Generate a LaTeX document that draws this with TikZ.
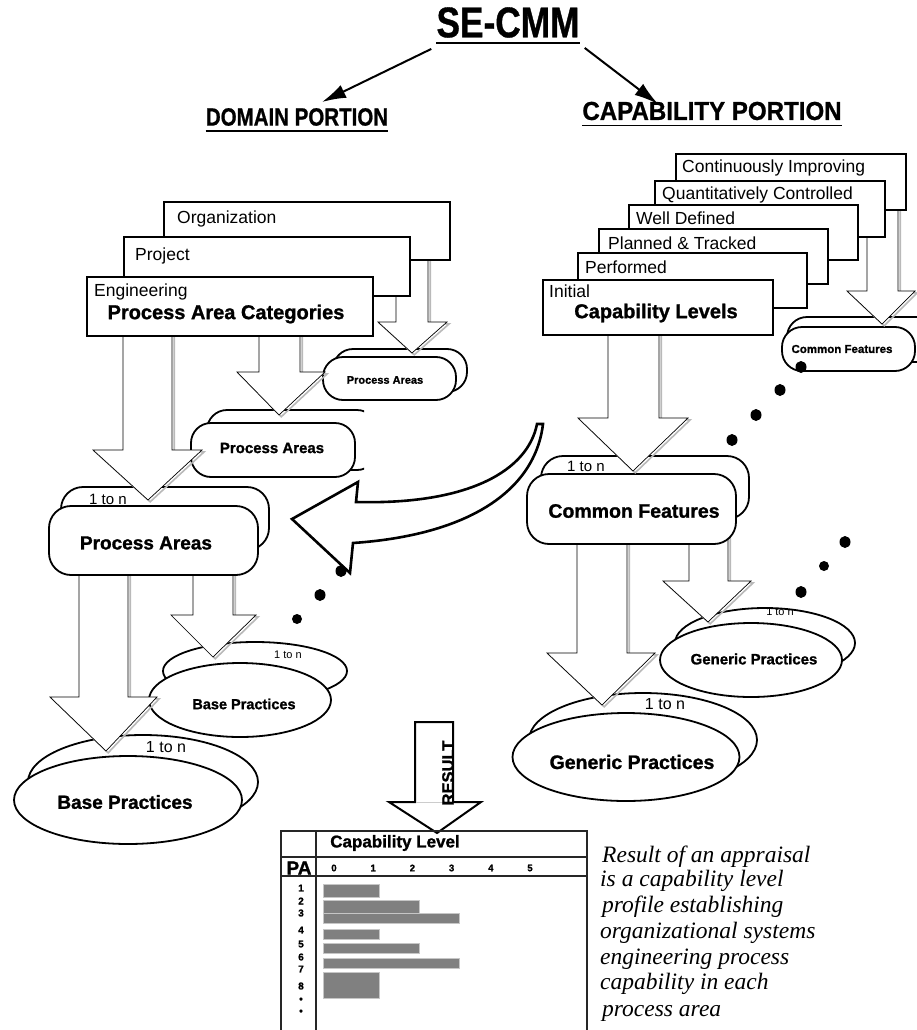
\documentclass[tikz,border=0pt]{standalone}
\usepackage{fontspec}
\setmainfont{Liberation Sans}
\newfontfamily\narrowfont[FakeStretch=0.82,FakeBold=0.8]{Liberation Sans Bold}
\newfontfamily\bsans[FakeBold=1.2]{Liberation Sans Bold}
\newfontfamily\noteserif{Liberation Serif}
\usetikzlibrary{arrows.meta,shapes.geometric}

% hollow block arrow with grey shadow: xl xr ytop yhead hxl hxr tipx tipy
\newcommand{\harrow}[8]{%
  \begin{scope}[shift={(2.2,1.8)}]
    \draw[gray!55, line width=1.6pt] (#1,#3) -- (#1,#4) -- (#5,#4) -- (#7,#8) -- (#6,#4) -- (#2,#4) -- (#2,#3);
  \end{scope}
  \draw[fill=white, line width=0.7pt] (#1,#3) -- (#1,#4) -- (#5,#4) -- (#7,#8) -- (#6,#4) -- (#2,#4) -- (#2,#3);
}

\tikzset{
  fs/.style={font=\fontsize{#1}{#1}\selectfont, inner sep=0pt},
  bfs/.style={font=\bsans\fontsize{#1}{#1}\selectfont, inner sep=0pt},
  nbf/.style={font=\narrowfont\fontsize{#1}{#1}\selectfont, inner sep=0pt},
  box/.style={draw, line width=2.3pt, fill=white, inner sep=0pt},
  pill/.style={draw, line width=1.8pt, fill=white, inner sep=0pt, rounded corners=20pt},
  ell/.style={ellipse, draw, line width=1.8pt, fill=white, inner sep=0pt},
  dot/.style={ellipse, fill=black, inner sep=0pt, minimum width=11pt, minimum height=12pt},
  tline/.style={line width=1.4pt, black!85},
  bar/.style={fill=gray, draw=gray!45, line width=0.6pt},
  note/.style={anchor=base west, inner sep=0pt, font=\noteserif\itshape\fontsize{23.5}{23.5}\selectfont}
}

\begin{document}
\begin{tikzpicture}[x=1pt,y=-1pt]
\useasboundingbox (0,0) rectangle (916,1030);
\fill[white] (0,0) rectangle (916,1030);

% ===== Title =====
\node[nbf=43] (secmm) at (508,22.5) {SE-CMM};
\draw[line width=1.6pt] ([yshift=-5pt]secmm.south west) -- ([yshift=-5pt]secmm.south east);
\node[nbf=25] (domain) at (297,117) {DOMAIN PORTION};
\draw[line width=1.4pt] ([yshift=-5pt]domain.south west) -- ([yshift=-5pt]domain.south east);
\node[nbf=26] (capab) at (712,111) {\scalebox{1.13}[1]{CAPABILITY PORTION}};
\draw[line width=1.4pt] ([yshift=-5pt]capab.south west) -- ([yshift=-5pt]capab.south east);
\coordinate (dtip) at (322,102);
\coordinate (ctip) at (658,104);
\draw[line width=2pt, -{Latex[length=24pt,width=14pt]}] ([xshift=-5pt,yshift=-11pt]secmm.south west) -- (dtip);
\draw[line width=2pt, -{Latex[length=24pt,width=14pt]}] ([xshift=5pt,yshift=-10pt]secmm.south east) -- (ctip);

% ===== Domain side: Base Practices =====
\node[ell, minimum width=184pt, minimum height=58pt] (bpSb) at (255,671) {};
\node[fs=11] (bpSn) at (288,655) {1 to n};
\node[ell, minimum width=182pt, minimum height=74pt] (bpS) at (240,700) {};
\node[bfs=14.5] (bpSt) at (244,704) {Base Practices};
\node[ell, minimum width=230pt, minimum height=94pt] (bpBb) at (143,782) {};
\node[fs=16] (bpBn) at (166,747) {1 to n};
\node[ell, minimum width=228pt, minimum height=88pt] (bpB) at (128,800) {};
\node[bfs=19] (bpBt) at (125,802) {Base Practices};

\harrow{79}{128}{565}{697}{50}{157}{106}{751}
\harrow{193}{233}{565}{615}{171}{256}{213}{657}

% ===== Process Areas =====
\node[pill, rounded corners=22pt, minimum width=208pt, minimum height=63pt] (paBb) at (165,518.5) {};
\node[fs=15] (paBn) at (108,499) {1 to n};
\node[pill, rounded corners=22pt, minimum width=209pt, minimum height=69pt] (paB) at (153.5,540.5) {};
\node[bfs=19] (paBt) at (146,543) {Process Areas};

\begin{scope}
  \clip (0,0) rectangle (364,1030);
  \node[pill, minimum width=170pt, minimum height=60pt] (paMb) at (292,440) {};
\end{scope}
\node[pill, minimum width=164pt, minimum height=54pt] (paM) at (273,450) {};
\node[bfs=15] (paMt) at (272,448) {Process Areas};

\node[pill, minimum width=134pt, minimum height=43pt] (paSb) at (400,370.5) {};
\node[pill, minimum width=133pt, minimum height=43pt] (paS) at (389.5,378.5) {};
\node[bfs=11] (paSt) at (385,380) {Process Areas};

\harrow{123}{172}{330}{450}{93}{202}{148}{500}
\harrow{259}{300}{330}{372}{237}{325}{279}{415}
\harrow{396}{428}{255}{322}{378}{447}{412}{353}

% ===== Process Area Categories =====
\node[box, minimum width=286pt, minimum height=58pt] (org) at (307,231) {};
\node[fs=17.5, anchor=west] (orgt) at (177,219) {Organization};
\node[box, minimum width=286pt, minimum height=59pt] (proj) at (267,266.5) {};
\node[fs=17.5, anchor=west] (projt) at (135,256) {Project};
\node[box, minimum width=286pt, minimum height=59pt] (eng) at (230,306.5) {};
\node[fs=17.5, anchor=west] (engt) at (94,292) {Engineering};
\node[bfs=20] (pac) at (226,314) {Process Area Categories};

% ===== Capability side: Generic Practices =====
\node[ell, minimum width=228pt, minimum height=94pt] (gpBb) at (643,740) {};
\node[fs=16] (gpBn) at (665,704) {1 to n};
\node[ell, minimum width=227pt, minimum height=88pt] (gpB) at (626,757) {};
\node[bfs=19.5] (gpBt) at (632,762) {Generic Practices};

\node[ell, minimum width=180pt, minimum height=70pt] (gpSb) at (765,643) {};
\node[fs=11] (gpSn) at (780,612) {1 to n};
\node[ell, minimum width=182pt, minimum height=74pt] (gpS) at (751,660) {};
\node[bfs=15] (gpSt) at (754,659) {Generic Practices};

\harrow{577}{627}{540}{653}{547}{655}{602}{705}
\harrow{689}{728}{535}{581}{663}{751}{708}{622}

% ===== Common Features =====
\node[pill, rounded corners=22pt, minimum width=208pt, minimum height=63pt] (cfBb) at (645,487.5) {};
\node[fs=15] (cfBn) at (586,466) {1 to n};
\node[pill, rounded corners=22pt, minimum width=209pt, minimum height=70pt] (cfB) at (631.5,509) {};
\node[bfs=19.5] (cfBt) at (634,511) {Common Features};

\node[pill, minimum width=150pt, minimum height=45pt] (cfSb) at (862,339.5) {};
\node[pill, minimum width=133pt, minimum height=44pt] (cfS) at (848.5,349) {};
\node[bfs=11.5] (cfSt) at (842,349) {Common Features};

\harrow{608}{659}{330}{418}{578}{688}{633}{471}
\harrow{867}{898}{205}{291}{847}{915}{882}{324}

% ===== Capability Levels =====
\node[box, minimum width=230pt, minimum height=56pt] (ci) at (791,182) {};
\node[fs=17.5, anchor=west] (cit) at (682,168) {Continuously Improving};
\node[box, minimum width=230pt, minimum height=56pt] (qc) at (770,209) {};
\node[fs=17.5, anchor=west] (qct) at (662,195) {Quantitatively Controlled};
\node[box, minimum width=229pt, minimum height=55pt] (wd) at (743.5,232.5) {};
\node[fs=17.5, anchor=west] (wdt) at (636,218) {Well Defined};
\node[box, minimum width=229pt, minimum height=55pt] (pt) at (713.5,256.5) {};
\node[fs=17.5, anchor=west] (ptt) at (608,243) {Planned \& Tracked};
\node[box, minimum width=229pt, minimum height=55pt] (perf) at (692.5,280.5) {};
\node[fs=17.5, anchor=west] (perft) at (585,267) {Performed};
\node[box, minimum width=230pt, minimum height=55pt] (init) at (658,307.5) {};
\node[fs=17.5, anchor=west] (initt) at (549,291) {Initial};
\node[bfs=20] (cl) at (656,313) {Capability Levels};

% ===== Curved arrow =====
\draw[line width=2.6pt, fill=white, line join=miter]
  (537,424) .. controls (528,470) and (470,505) .. (356,502)
  -- (358,482) -- (292,519) -- (350,573) -- (353,543)
  .. controls (470,535) and (535,490) .. (543,424) -- cycle;

% ===== Dots =====
\node[dot] (l1) at (341,571) {};
\node[dot] (l2) at (320,595) {};
\node[dot, minimum width=10pt, minimum height=10pt] (l3) at (297,619) {};
\node[dot] (r1) at (801,367) {};
\node[dot] (r2) at (780,390) {};
\node[dot] (r3) at (756,415) {};
\node[dot] (r4) at (732,440) {};
\node[dot] (s1) at (845,542) {};
\node[dot, minimum width=10pt, minimum height=10pt] (s2) at (824,566) {};
\node[dot] (s3) at (801,592) {};

% ===== RESULT arrow =====
\draw[line width=2pt, fill=white, line join=miter] (415,722) -- (453,722) -- (453,802) -- (481,802) -- (437,833) -- (389,802) -- (415,802) -- cycle;
\draw[gray!40, line width=0.8pt] (415.5,802) -- (452.5,802);
\node[bfs=16.5, rotate=90] (res) at (448,773) {RESULT};

% ===== Profile table =====
\draw[tline] (281,1035) -- (281,831) -- (587,831) -- (587,1035);
\draw[tline] (316,831) -- (316,1035);
\draw[tline] (281,857) -- (587,857);
\draw[tline] (281,876) -- (587,876);
\node[bfs=17] (clh) at (395,843) {Capability Level};
\node[bfs=19] (pah) at (299,868) {PA};
\foreach \v [count=\i from 0] in {0,1,2,3,4,5}
  \node[bfs=9.5] (ax\i) at (334+39.2*\i,868) {\v};
\foreach \v/\y in {1/888,2/901,3/913,4/930,5/944,6/957,7/969,8/986}
  \node[bfs=10] (pa\v) at (301,\y) {\v};
\node[bfs=10] (pad1) at (301,1000) {\textbullet};
\node[bfs=10] (pad2) at (301,1012) {\textbullet};
\draw[bar] (323,884) rectangle (379,897);
\draw[bar] (323,900) rectangle (419,913);
\draw[bar] (323,913) rectangle (459,923);
\draw[bar] (323,929) rectangle (379,939);
\draw[bar] (323,943) rectangle (419,953);
\draw[bar] (323,958) rectangle (459,968);
\draw[bar] (323,972) rectangle (379,998);

% ===== Note =====
\node[note] (n1) at (602,862) {Result of an appraisal};
\node[note] (n2) at (600,886) {is a capability level};
\node[note] (n3) at (602,912) {profile establishing};
\node[note] (n4) at (600,938) {organizational systems};
\node[note] (n5) at (600,964) {engineering process};
\node[note] (n6) at (600,989) {capability in each};
\node[note] (n7) at (602,1016) {process area};
\end{tikzpicture}
\end{document}
